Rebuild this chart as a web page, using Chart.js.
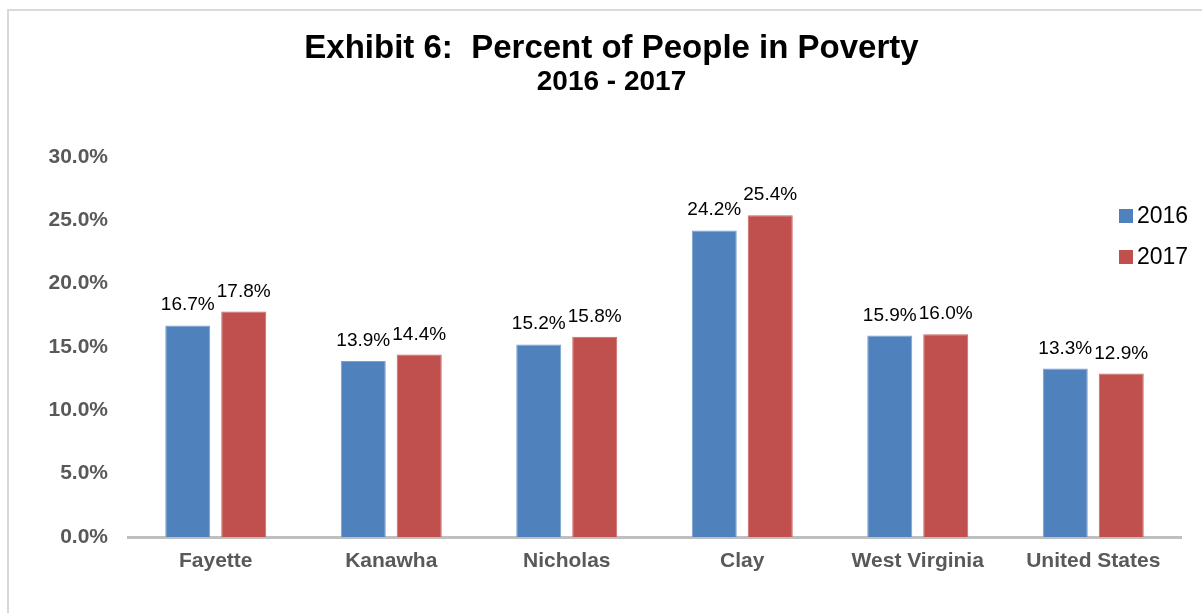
<!DOCTYPE html>
<html>
<head>
<meta charset="utf-8">
<script src="https://cdn.jsdelivr.net/npm/chart.js@4/dist/chart.umd.min.js"></script>
<style>
  html, body { margin: 0; padding: 0; background: #fff; overflow: hidden; }
  #wrap { position: relative; width: 1202px; height: 613px; }
  #frame { position: absolute; left: 7px; top: 9px; width: 1300px; height: 700px;
           border-left: 2px solid #d9d9d9; border-top: 2px solid #d9d9d9; }
  #c { position: absolute; left: 0; top: 0; }
</style>
</head>
<body>
<div id="wrap">
  <div id="frame"></div>
  <canvas id="c" width="1202" height="613"></canvas>
</div>
<script>
// Poverty rates by area, in percent
const categories = ['Fayette', 'Kanawha', 'Nicholas', 'Clay', 'West Virginia', 'United States'];
const seriesNames = ['2016', '2017'];
const values2016 = [16.7, 13.9, 15.2, 24.2, 15.9, 13.3];
const values2017 = [17.8, 14.4, 15.8, 25.4, 16.0, 12.9];
const seriesColors = ['#4f81bd', '#c0504d'];
const seriesBorders = ['#7a9fd1', '#c96563'];
const yMax = 30;
const yStep = 5;

const FONT = '"Liberation Sans", Arial, Helvetica, sans-serif';

// Percent labels above each bar
const valueLabels = {
  id: 'valueLabels',
  afterDatasetsDraw(chart) {
    const ctx = chart.ctx;
    ctx.save();
    ctx.font = '19px ' + FONT;
    ctx.fillStyle = '#000';
    ctx.textAlign = 'center';
    ctx.textBaseline = 'alphabetic';
    chart.data.datasets.forEach((ds, i) => {
      chart.getDatasetMeta(i).data.forEach((bar, j) => {
        ctx.fillText(ds.data[j].toFixed(1) + '%', bar.x, bar.y - 15);
      });
    });
    ctx.restore();
  }
};

// Legend overlaid at the upper right of the plot
const sideLegend = {
  id: 'sideLegend',
  afterDraw(chart) {
    const ctx = chart.ctx;
    const area = chart.chartArea;
    const x0 = area.right - 62;
    const y0 = area.top + 59;
    ctx.save();
    ctx.font = '23px ' + FONT;
    ctx.textAlign = 'left';
    ctx.textBaseline = 'middle';
    chart.data.datasets.forEach((ds, i) => {
      const yc = y0 + i * 41;
      ctx.fillStyle = ds.backgroundColor;
      ctx.fillRect(x0, yc - 7, 14, 14);
      ctx.fillStyle = '#000';
      ctx.fillText(ds.label, x0 + 18, yc + 1);
    });
    ctx.restore();
  }
};

new Chart(document.getElementById('c'), {
  type: 'bar',
  data: {
    labels: categories,
    datasets: [
      { label: seriesNames[0], data: values2016, backgroundColor: seriesColors[0],
        borderColor: seriesBorders[0], borderWidth: 1 },
      { label: seriesNames[1], data: values2017, backgroundColor: seriesColors[1],
        borderColor: seriesBorders[1], borderWidth: 1 }
    ]
  },
  options: {
    responsive: false,
    animation: false,
    devicePixelRatio: 1,
    layout: { padding: { left: 42, right: 21, top: 0, bottom: 0 } },
    datasets: { bar: { categoryPercentage: 0.638, barPercentage: 0.804 } },
    plugins: {
      legend: { display: false },
      tooltip: { enabled: false },
      title: {
        display: true,
        text: 'Exhibit 6:  Percent of People in Poverty',
        color: '#000',
        font: { family: FONT, size: 33, weight: 'bold', lineHeight: 1 },
        padding: { top: 32, bottom: 0 }
      },
      subtitle: {
        display: true,
        text: '2016 - 2017',
        color: '#000',
        font: { family: FONT, size: 28, weight: 'bold', lineHeight: 1 },
        padding: { top: 3.5, bottom: 60.5 }
      }
    },
    scales: {
      x: {
        grid: { display: false, drawTicks: false },
        border: { display: true, color: '#bfbfbf', width: 3 },
        ticks: { color: '#595959', padding: 12, font: { family: FONT, size: 21, weight: 'bold' } },
        afterFit(scale) { scale.height = 76; }
      },
      y: {
        min: 0,
        max: yMax,
        grid: { display: false, drawTicks: false },
        border: { display: false },
        ticks: {
          stepSize: yStep,
          color: '#595959',
          padding: 20,
          font: { family: FONT, size: 21, weight: 'bold' },
          callback: (v) => v.toFixed(1) + '%'
        },
        afterFit(scale) { scale.width = 86; }
      }
    }
  },
  plugins: [valueLabels, sideLegend]
});
</script>
</body>
</html>
